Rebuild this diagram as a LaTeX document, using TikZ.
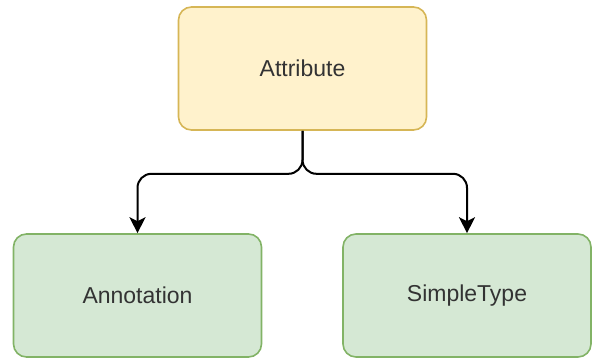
\documentclass[tikz,border=0pt]{standalone}
\usepackage{fontspec}
\setmainfont{Liberation Sans}
\usetikzlibrary{arrows.meta}
\definecolor{attrfill}{HTML}{FFF2CC}
\definecolor{attrline}{HTML}{D6B656}
\definecolor{leaffill}{HTML}{D5E8D4}
\definecolor{leafline}{HTML}{82B366}
\definecolor{txt}{HTML}{333333}
\begin{document}
\begin{tikzpicture}[x=1pt,y=1pt,
  box/.style={rectangle, rounded corners=13pt, line width=1.6pt,
    minimum width=248pt, minimum height=123pt, inner sep=0pt,
    font=\fontsize{23}{27}\selectfont, text=txt},
  attrbox/.style={box, fill=attrfill, draw=attrline},
  leafbox/.style={box, fill=leaffill, draw=leafline},
  link/.style={line width=2pt, rounded corners=14pt,
    -{Stealth[length=16pt,width=16pt,inset=4pt]}}]
  \useasboundingbox (0,0) rectangle (592,-358);
  \node[attrbox] (attr) at (302.5,-68.5) {Attribute};
  \node[leafbox] (ann) at (137.5,-295.5) {Annotation};
  \node[leafbox] (simple) at (467,-295.5) {SimpleType};
  \draw[link] (attr.south) -- ++(0,-43) -| (ann.north);
  \draw[link] (attr.south) -- ++(0,-43) -| (simple.north);
\end{tikzpicture}
\end{document}
